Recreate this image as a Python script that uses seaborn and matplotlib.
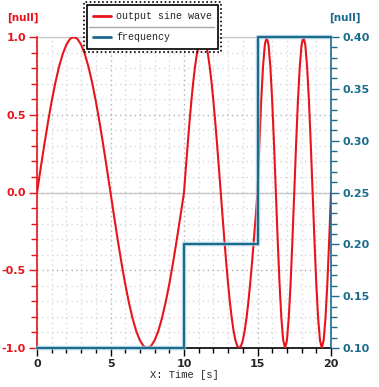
import numpy as np
import pandas as pd
import seaborn as sns
import matplotlib.pyplot as plt
from matplotlib.patches import Rectangle
from matplotlib.lines import Line2D
from matplotlib.ticker import MultipleLocator

# sine wave samples (time [s], amplitude)
sine_t = [0, 0.25, 0.5, 0.75, 1, 1.25, 1.5, 1.75, 2, 2.25, 2.5, 2.75, 3, 3.25, 3.5, 3.75, 4, 4.25, 4.5, 4.75,
          5, 5.25, 5.5, 5.75, 6, 6.25, 6.5, 6.75, 7, 7.25, 7.5, 7.75, 8, 8.25, 8.5, 8.75, 9, 9.25, 9.5, 9.75,
          10, 10.125, 10.25, 10.375, 10.5, 10.625, 10.75, 10.875, 11, 11.125, 11.25, 11.375, 11.5, 11.625, 11.75, 11.875,
          12, 12.125, 12.25, 12.375, 12.5, 12.625, 12.75, 12.875, 13, 13.125, 13.25, 13.375, 13.5, 13.625, 13.75, 13.875,
          14, 14.125, 14.25, 14.375, 14.5, 14.625, 14.75, 14.875,
          15, 15.125, 15.25, 15.375, 15.5, 15.625, 15.75, 15.875, 16, 16.125, 16.25, 16.375, 16.5, 16.625, 16.75, 16.875,
          17, 17.125, 17.25, 17.375, 17.5, 17.625, 17.75, 17.875, 18, 18.125, 18.25, 18.375, 18.5, 18.625, 18.75, 18.875,
          19, 19.125, 19.25, 19.375, 19.5, 19.625, 19.75, 19.875, 20]
sine_y = [0, 0.156, 0.309, 0.454, 0.588, 0.707, 0.809, 0.891, 0.951, 0.988, 1.0, 0.988, 0.951, 0.891, 0.809, 0.707, 0.588, 0.454, 0.309, 0.156,
          0, -0.156, -0.309, -0.454, -0.588, -0.707, -0.809, -0.891, -0.951, -0.988, -1.0, -0.988, -0.951, -0.891, -0.809, -0.707, -0.588, -0.454, -0.309, -0.156,
          0, 0.156, 0.309, 0.454, 0.588, 0.707, 0.809, 0.891, 0.951, 0.988, 1.0, 0.988, 0.951, 0.891, 0.809, 0.707, 0.588, 0.454, 0.309, 0.156,
          0, -0.156, -0.309, -0.454, -0.588, -0.707, -0.809, -0.891, -0.951, -0.988, -1.0, -0.988, -0.951, -0.891, -0.809, -0.707, -0.588, -0.454, -0.309, -0.156,
          0, 0.309, 0.588, 0.809, 0.951, 1.0, 0.951, 0.809, 0.588, 0.309, 0, -0.309, -0.588, -0.809, -0.951, -1.0, -0.951, -0.809, -0.588, -0.309,
          0, 0.309, 0.588, 0.809, 0.951, 1.0, 0.951, 0.809, 0.588, 0.309, 0, -0.309, -0.588, -0.809, -0.951, -1.0, -0.951, -0.809, -0.588, -0.309,
          0]

# frequency steps
freq_t = [0, 10, 15, 20]
freq_v = [0.1, 0.2, 0.4, 0.4]

labels = ["output sine wave", "frequency"]
xlabel = "X: Time [s]"
unit_label = "[null]"

RED = "#e8141c"
TEAL = "#1b6b8c"

sns.set_style("white")
plt.rcParams["font.family"] = ["DejaVu Sans"]

df_sine = pd.DataFrame({"t": sine_t, "y": sine_y})
df_freq = pd.DataFrame({"t": freq_t, "f": freq_v})

fig = plt.figure(figsize=(3.79, 3.87), dpi=100)
ax = fig.add_axes([37 / 379, 39 / 387, 294 / 379, 311 / 387])
ax2 = ax.twinx()

# grid
ax.xaxis.set_major_locator(MultipleLocator(5))
ax.xaxis.set_minor_locator(MultipleLocator(1))
ax.yaxis.set_major_locator(MultipleLocator(0.5))
ax.yaxis.set_minor_locator(MultipleLocator(0.1))
ax.grid(which="minor", color="#d8d8d8", linestyle=(0, (1, 2.5)), linewidth=1)
ax.grid(which="major", color="#b0b0b0", linestyle=(0, (1, 2.5)), linewidth=1)
ax.axhline(0, color="#c8c8c8", lw=1, zorder=1)
ax.axhline(1, color="#c8c8c8", lw=1, zorder=1, clip_on=False)

sns.lineplot(data=df_sine, x="t", y="y", color=RED, lw=1.5, ax=ax, legend=False, zorder=3)

sns.lineplot(data=df_freq, x="t", y="f", color="#9cc8dc", lw=3.2, drawstyle="steps-post",
             ax=ax2, legend=False, clip_on=False, zorder=2, alpha=0.7)
sns.lineplot(data=df_freq, x="t", y="f", color=TEAL, lw=1.5, drawstyle="steps-post",
             ax=ax2, legend=False, clip_on=False, zorder=3)

ax.set_xlim(0, 20)
ax.set_ylim(-1, 1)
ax2.set_ylim(0.1, 0.4)
ax2.yaxis.set_major_locator(MultipleLocator(0.05))
ax2.yaxis.set_minor_locator(MultipleLocator(0.01))

ax.set_ylabel("")
ax2.set_ylabel("")
ax.set_xlabel(xlabel, family="Liberation Mono", fontsize=7.5, labelpad=1)

ax.yaxis.set_major_formatter(lambda v, p: f"{v:.1f}")
ax2.yaxis.set_major_formatter(lambda v, p: f"{v:.2f}")

for a in (ax, ax2):
    for s in a.spines.values():
        s.set_visible(False)
ax.spines["left"].set_visible(True)
ax.spines["left"].set_color(RED)
ax.spines["bottom"].set_visible(True)
ax.spines["bottom"].set_color("black")
ax2.spines["right"].set_visible(True)
ax2.spines["right"].set_color(TEAL)
for s in ("left", "bottom"):
    ax.spines[s].set_linewidth(1.2)
ax2.spines["right"].set_linewidth(1.2)

ax.tick_params(axis="y", which="major", length=6, width=1, color=RED, labelcolor=RED,
               labelsize=8, pad=2, left=True)
ax.tick_params(axis="y", which="minor", length=4, width=1, color=RED, left=True)
ax.tick_params(axis="x", which="major", length=6, width=1, color="black", labelsize=8, pad=2, bottom=True)
ax.tick_params(axis="x", which="minor", length=3.5, width=1, color="black", bottom=True)
ax2.tick_params(axis="y", which="major", length=6, width=1, color=TEAL, labelcolor=TEAL,
                labelsize=8, pad=2, right=True)
ax2.tick_params(axis="y", which="minor", length=4, width=1, color=TEAL, right=True)
for lab in ax.get_xticklabels() + ax.get_yticklabels() + ax2.get_yticklabels():
    lab.set_fontweight("bold")

fig.text(23 / 379, 1 - 18 / 387, unit_label, color=RED, fontsize=7.5, fontweight="bold",
         ha="center", va="center")
fig.text(345 / 379, 1 - 18 / 387, unit_label, color=TEAL, fontsize=7.5, fontweight="bold",
         ha="center", va="center")

handles = [Line2D([], [], color=RED, lw=2), Line2D([], [], color=TEAL, lw=2)]
leg = fig.legend(handles, labels, loc="upper left", bbox_to_anchor=(87 / 379, 1 - 5 / 387),
                 bbox_transform=fig.transFigure, borderaxespad=0, fancybox=False,
                 framealpha=1, edgecolor="black", handlelength=1.8, handletextpad=0.5,
                 labelspacing=1.15, borderpad=0.6,
                 prop={"family": "Liberation Mono", "size": 7.2})
leg.get_frame().set_linewidth(1.2)

fig.canvas.draw()
bb = leg.get_window_extent().transformed(fig.transFigure.inverted())
pw, ph = 3 / 379, 3 / 387
fig.add_artist(Rectangle((bb.x0 - pw, bb.y0 - ph), bb.width + 2 * pw, bb.height + 2 * ph,
                         transform=fig.transFigure, fill=False, edgecolor="black",
                         linestyle=(0, (1, 1.5)), lw=1.2, zorder=10))
ymid = bb.y0 + bb.height / 2
fig.add_artist(Line2D([bb.x0 + 2 / 379, bb.x1 - 4 / 379], [ymid, ymid], transform=fig.transFigure,
                      color="#a8a8a8", lw=1, zorder=10))

fig.savefig("out.png", dpi=100)
